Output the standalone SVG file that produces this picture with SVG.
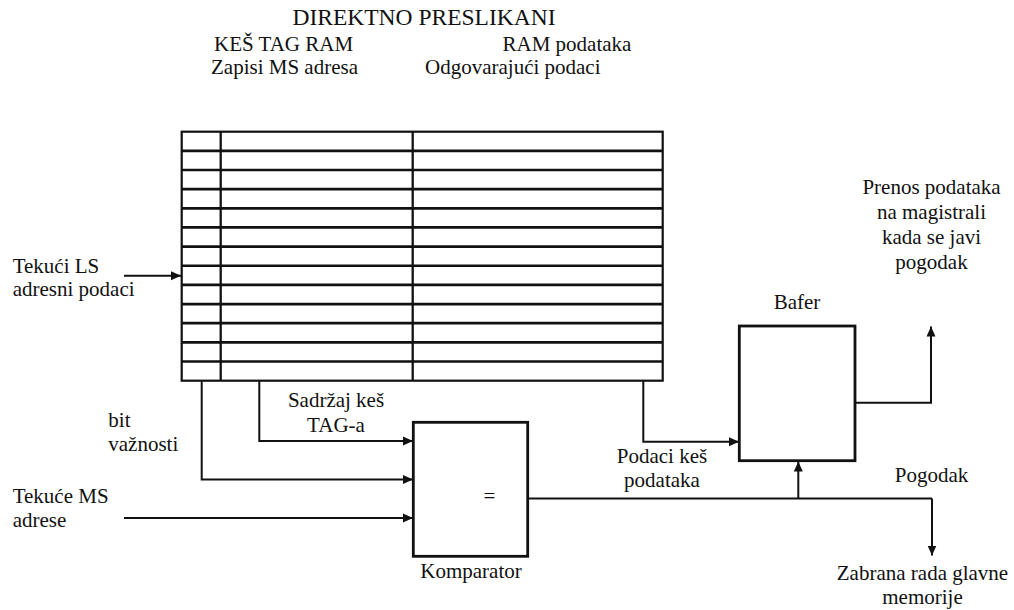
<svg xmlns="http://www.w3.org/2000/svg" width="1014" height="610" viewBox="0 0 1014 610">
<defs>
<style>
text{font-family:"Liberation Serif","Times New Roman",serif;font-size:21px;fill:#111}
.t{font-size:23.5px}
.c{text-anchor:middle}
.box{fill:#fff;stroke:#111;stroke-width:2.8}
.grid{stroke:#111;stroke-width:2.7}
.vd{stroke:#111;stroke-width:2.3}
.con{fill:none;stroke:#111;stroke-width:2}
.arr{marker-end:url(#ah)}
</style>
<marker id="ah" markerUnits="userSpaceOnUse" markerWidth="11" markerHeight="10" refX="10" refY="5" orient="auto" viewBox="0 0 11 10">
<path d="M0,0.5 L10,5 L0,9.5 z" fill="#111"/>
</marker>
</defs>
<rect width="1014" height="610" fill="#fff"/>
<g id="title">
<text class="t c" x="424" y="25">DIREKTNO PRESLIKANI</text>
<text x="214" y="51">KEŠ TAG RAM</text>
<text x="502.5" y="51">RAM podataka</text>
<text x="211" y="74">Zapisi MS adresa</text>
<text x="425" y="74">Odgovarajući podaci</text>
</g>
<g id="cache-table">
<rect x="181.7" y="131.7" width="481" height="249" fill="#fff" stroke="#111" stroke-width="2.2"/>
<g class="grid">
<line x1="181.7" y1="150.85" x2="662.7" y2="150.85"/>
<line x1="181.7" y1="170" x2="662.7" y2="170"/>
<line x1="181.7" y1="189.15" x2="662.7" y2="189.15"/>
<line x1="181.7" y1="208.3" x2="662.7" y2="208.3"/>
<line x1="181.7" y1="227.45" x2="662.7" y2="227.45"/>
<line x1="181.7" y1="246.6" x2="662.7" y2="246.6"/>
<line x1="181.7" y1="265.75" x2="662.7" y2="265.75"/>
<line x1="181.7" y1="284.9" x2="662.7" y2="284.9"/>
<line x1="181.7" y1="304.05" x2="662.7" y2="304.05"/>
<line x1="181.7" y1="323.2" x2="662.7" y2="323.2"/>
<line x1="181.7" y1="342.35" x2="662.7" y2="342.35"/>
<line x1="181.7" y1="361.5" x2="662.7" y2="361.5"/>
</g>
<line class="vd" x1="220.7" y1="131.7" x2="220.7" y2="380.7"/>
<line class="vd" x1="412.7" y1="131.7" x2="412.7" y2="380.7"/>
</g>
<g id="comparator">
<rect class="box" x="413.3" y="422.3" width="114.4" height="134"/>
<text class="c" x="489.5" y="503">=</text>
<text class="c" x="471" y="578">Komparator</text>
</g>
<g id="bafer">
<rect class="box" x="739.3" y="326" width="115.7" height="134.7"/>
<text class="c" x="797" y="309">Bafer</text>
</g>
<g id="labels">
<text x="12.7" y="272.7">Tekući LS</text>
<text x="12.7" y="295.7">adresni podaci</text>
<text x="108.3" y="426.5">bit</text>
<text x="108.3" y="451">važnosti</text>
<text class="c" x="336" y="406.7">Sadržaj keš</text>
<text class="c" x="336" y="431.7">TAG-a</text>
<text x="12.7" y="502.7">Tekuće MS</text>
<text x="12.7" y="527.3">adrese</text>
<text class="c" x="662" y="463.3">Podaci keš</text>
<text class="c" x="662" y="486.7">podataka</text>
<text class="c" x="931.5" y="194.3">Prenos podataka</text>
<text class="c" x="931.5" y="219.3">na magistrali</text>
<text class="c" x="931.5" y="244.3">kada se javi</text>
<text class="c" x="931.5" y="269.3">pogodak</text>
<text class="c" x="931.5" y="481.7">Pogodak</text>
<text class="c" x="922.5" y="580">Zabrana rada glavne</text>
<text class="c" x="922.5" y="604">memorije</text>
</g>
<g id="connectors">
<path class="con arr" d="M124,275.7 H181"/>
<path class="con arr" d="M259.3,381 V441 H413"/>
<path class="con arr" d="M201.7,381 V479.5 H413"/>
<path class="con arr" d="M124,518 H413"/>
<path class="con arr" d="M643.3,381 V441.7 H739"/>
<path class="con" d="M528,498.5 H932"/>
<path class="con arr" d="M932,498.5 V555.5"/>
<path class="con arr" d="M798.3,498.5 V461.5"/>
<path class="con arr" d="M855,402.7 H931 V326.5"/>
</g>
</svg>
